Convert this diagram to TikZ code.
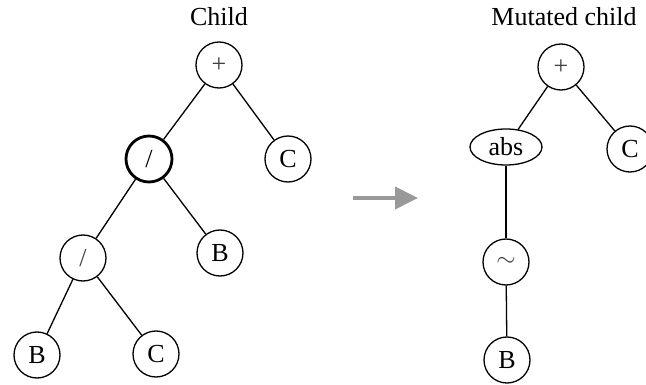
\documentclass[tikz,border=0pt]{standalone}
\usepackage{fontspec}
\setmainfont{Liberation Serif}
\usetikzlibrary{shapes.geometric,arrows.meta}
\begin{document}
\begin{tikzpicture}[x=1pt,y=-1pt,
  every node/.style={font=\fontsize{26}{30}\selectfont},
  tnode/.style={circle,draw,line width=1.3pt,minimum size=46pt,inner sep=0pt},
  selnode/.style={tnode,line width=2.8pt},
  enode/.style={ellipse,draw,line width=1.3pt,minimum width=72pt,minimum height=36pt,inner sep=0pt},
  edge/.style={line width=1.3pt},
  title/.style={anchor=base,inner sep=0pt},
  bigarrow/.style={draw={rgb,255:red,153;green,153;blue,153},line width=4pt,-{Triangle[length=23pt,width=22pt]}}
]
\useasboundingbox (0,0) rectangle (646,385);
% titles
\node[title] (t1) at (219,26) {Child};
\node[title] (t2) at (564,26) {Mutated child};
% left tree
\node[tnode] (p1) at (219,65) {\textcolor{black!75}{+}};
\node[selnode] (d1) at (149,159) {/};
\node[tnode] (c1) at (288,159) {C};
\node[tnode] (b1) at (220,253) {B};
\node[tnode] (d2) at (83,258) {\textcolor{black!75}{/}};
\node[tnode] (b2) at (37,355) {B};
\node[tnode] (c2) at (156,354) {C};
\draw[edge] (p1) -- (d1);
\draw[edge] (p1) -- (c1);
\draw[edge] (d1) -- (b1);
\draw[edge] (d1) -- (d2);
\draw[edge] (d2) -- (b2);
\draw[edge] (d2) -- (c2);
% arrow
\coordinate (as) at (353,198);
\coordinate (ae) at (418,198);
\draw[bigarrow] (as) -- (ae);
% right tree
\node[tnode] (p2) at (561,67) {\textcolor{black!75}{+}};
\node[enode] (abs) at (506,147) {abs};
\node[tnode] (c3) at (630,149) {C};
\node[tnode] (tl) at (506,262) {\textcolor{black!75}{$\sim$}};
\node[tnode] (b3) at (507,360) {B};
\draw[edge] (p2) -- (abs);
\draw[edge] (p2) -- (c3);
\draw[edge] (abs.south -| tl) -- (tl);
\draw[edge] (tl) -- (b3);
\end{tikzpicture}
\end{document}
